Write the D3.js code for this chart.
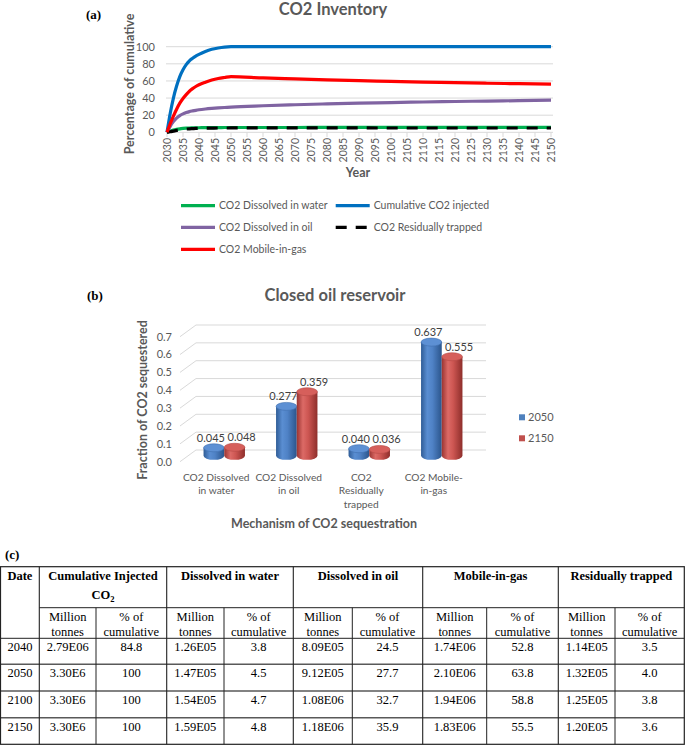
<!DOCTYPE html>
<html><head><meta charset="utf-8">
<script src="https://cdn.jsdelivr.net/npm/d3@7"></script>
<style>body{margin:0;background:#fff} svg{display:block}</style>
</head><body>
<svg id="fig" width="685" height="745"></svg>
<script>
// ---------- Panel (a) data ----------
const years = [2030,2031,2032,2033,2034,2035,2036,2037,2038,2039,2040,2042,2044,2046,2048,2050,2060,2070,2080,2090,2100,2110,2120,2130,2140,2150];
const dissolvedWater = [0,1.5,2.7,3.5,4.1,4.5,4.8,5.0,5.1,5.2,5.3,5.4,5.5,5.5,5.6,5.6,5.6,5.6,5.7,5.7,5.7,5.7,5.7,5.7,5.7,5.7];
const cumulativeInjected = [0,22,40,54,65,73,79,83.5,86.5,89,91,94.5,97,98.5,99.5,100,100,100,100,100,100,100,100,100,100,100];
const dissolvedOil = [0,7,12.5,16.5,19.5,21.5,23,24.2,25,25.7,26.3,27.2,27.9,28.5,29,29.5,31,32.2,33.2,34,34.7,35.4,36,36.5,37,37.5];
const residuallyTrapped = [0,0.6,1.4,2.2,2.9,3.4,3.8,4.1,4.3,4.5,4.6,4.8,4.9,5.0,5.0,5.1,5.1,5.1,5.1,5.1,5.0,5.0,5.0,5.0,5.0,5.0];
const mobileInGas = [0,10,19,27,34,39.5,44,48,51,53.5,55.5,58.5,61,62.8,64,65,63.5,62.3,61.2,60.3,59.5,58.7,58,57.3,56.8,56.3];
const yearTicks = [2030,2035,2040,2045,2050,2055,2060,2065,2070,2075,2080,2085,2090,2095,2100,2105,2110,2115,2120,2125,2130,2135,2140,2145,2150];
const pctTicks = [0,20,40,60,80,100];
const seriesNames = ["CO2 Dissolved in water","Cumulative CO2 injected","CO2 Dissolved in oil","CO2 Residually trapped","CO2 Mobile-in-gas"];

// ---------- Panel (b) data ----------
const mechanisms = ["CO2 Dissolved in water","CO2 Dissolved in oil","CO2 Residually trapped","CO2 Mobile-in-gas"];
const mechanismLabelLines = [["CO2 Dissolved","in water"],["CO2 Dissolved","in oil"],["CO2","Residually","trapped"],["CO2 Mobile-","in-gas"]];
const barYears = ["2050","2150"];
const fraction2050 = [0.045,0.277,0.040,0.637];
const fraction2150 = [0.048,0.359,0.036,0.555];
const fractionTicks = [0,0.1,0.2,0.3,0.4,0.5,0.6,0.7];

// ---------- Panel (c) data ----------
const tableDates = ["2040","2050","2100","2150"];
const tableGroups = ["Cumulative Injected", "Dissolved in water", "Dissolved in oil", "Mobile-in-gas", "Residually trapped"];
const tableCumulative = [["2.79E06","84.8"],["3.30E6","100"],["3.30E6","100"],["3.30E6","100"]];
const tableWater = [["1.26E05","3.8"],["1.47E05","4.5"],["1.54E05","4.7"],["1.59E05","4.8"]];
const tableOil = [["8.09E05","24.5"],["9.12E05","27.7"],["1.08E06","32.7"],["1.18E06","35.9"]];
const tableGas = [["1.74E06","52.8"],["2.10E06","63.8"],["1.94E06","58.8"],["1.83E06","55.5"]];
const tableResidual = [["1.14E05","3.5"],["1.32E05","4.0"],["1.25E05","3.8"],["1.20E05","3.6"]];

const svg = d3.select("#fig");
const SANS = "Lato, 'Open Sans', sans-serif";
const SERIF = "'Liberation Serif', 'Times New Roman', serif";
const GRAY = "#595959";

// ================= PANEL (a) =================
const xA = d3.scaleLinear().domain([2030,2150]).range([167,551]);
const yA = d3.scaleLinear().domain([0,100]).range([132.3,46.7]);

svg.append("text").attr("x",86).attr("y",19).attr("font-family",SERIF).attr("font-weight","bold")
  .attr("font-size",13).text("(a)");
svg.append("text").attr("x",333).attr("y",14.5).attr("text-anchor","middle").attr("font-family",SANS)
  .attr("font-weight","bold").attr("font-size",16.5).attr("fill",GRAY).text("CO2 Inventory");

const gA = svg.append("g");
gA.selectAll("line.grid").data(pctTicks).join("line").attr("class","grid")
  .attr("x1",166).attr("x2",553).attr("y1",d=>yA(d)).attr("y2",d=>yA(d))
  .attr("stroke","#d9d9d9").attr("stroke-width",1);
gA.selectAll("text.yt").data(pctTicks).join("text").attr("class","yt")
  .attr("x",155).attr("y",d=>yA(d)).attr("dy","0.35em").attr("text-anchor","end")
  .attr("font-family",SANS).attr("font-size",11).attr("fill",GRAY).text(d=>d);
gA.selectAll("line.xtk").data(yearTicks).join("line").attr("class","xtk")
  .attr("x1",d=>xA(d)).attr("x2",d=>xA(d)).attr("y1",132.3).attr("y2",137)
  .attr("stroke","#d9d9d9");
gA.selectAll("text.xt").data(yearTicks).join("text").attr("class","xt")
  .attr("transform",d=>`translate(${xA(d)},138) rotate(-90)`).attr("dy","0.35em").attr("text-anchor","end")
  .attr("font-family",SANS).attr("font-size",10.5).attr("fill",GRAY).text(d=>d);
svg.append("text").attr("transform","translate(129.5,84) rotate(-90)").attr("dy","0.35em")
  .attr("text-anchor","middle").attr("font-family",SANS).attr("font-weight","bold").attr("font-size",12.5)
  .attr("fill",GRAY).text("Percentage of cumulative");
svg.append("text").attr("x",358).attr("y",172.5).attr("dy","0.35em").attr("text-anchor","middle")
  .attr("font-family",SANS).attr("font-weight","bold").attr("font-size",12.5).attr("fill",GRAY).text("Year");

const seriesA = [
  {name:seriesNames[0], vals:dissolvedWater, color:"#00b050", dash:null},
  {name:seriesNames[1], vals:cumulativeInjected, color:"#0070c0", dash:null},
  {name:seriesNames[2], vals:dissolvedOil, color:"#8064a2", dash:null},
  {name:seriesNames[3], vals:residuallyTrapped, color:"#000000", dash:"11,9"},
  {name:seriesNames[4], vals:mobileInGas, color:"#ff0000", dash:null}
];
const lineA = d3.line().x((d,i)=>xA(years[i])).y(d=>yA(d)).curve(d3.curveMonotoneX);
seriesA.forEach(s=>{
  gA.append("path").attr("d",lineA(s.vals)).attr("fill","none").attr("stroke",s.color)
    .attr("stroke-width",3.2).attr("stroke-dasharray",s.dash).attr("stroke-linejoin","round");
});
// legend (a)
const legPos = [[181,205.7],[335.7,205.7],[181,227.3],[335.7,227.3],[181,249.3]];
seriesA.forEach((s,i)=>{
  const [lx,ly] = legPos[i];
  svg.append("line").attr("x1",lx).attr("x2",lx+34).attr("y1",ly).attr("y2",ly)
    .attr("stroke",s.color).attr("stroke-width",3.2).attr("stroke-dasharray",s.dash);
  svg.append("text").attr("x",lx+38).attr("y",ly).attr("dy","0.35em").attr("font-family",SANS)
    .attr("font-size",10.5).attr("fill",GRAY).text(s.name);
});

// ================= PANEL (b) =================
const dX = 16, dY = 11.7;          // depth offset (back -> front)
const yB = d3.scaleLinear().domain([0,0.7]).range([450,325]);   // back wall
const xB = d3.scaleBand().domain(mechanisms).range([196,486]);
const groupW = 41.4;
const xS = d3.scaleBand().domain(barYears).range([0,groupW]);

svg.append("text").attr("x",87).attr("y",300).attr("font-family",SERIF).attr("font-weight","bold")
  .attr("font-size",13).text("(b)");
svg.append("text").attr("x",335).attr("y",295).attr("dy","0.35em").attr("text-anchor","middle")
  .attr("font-family",SANS).attr("font-weight","bold").attr("font-size",16.5).attr("fill",GRAY)
  .text("Closed oil reservoir");

const gB = svg.append("g");
gB.selectAll("line.bg").data(fractionTicks).join("line").attr("class","bg")
  .attr("x1",196).attr("x2",486).attr("y1",d=>yB(d)).attr("y2",d=>yB(d))
  .attr("stroke","#d9d9d9");
gB.selectAll("line.bd").data(fractionTicks).join("line").attr("class","bd")
  .attr("x1",196-dX).attr("x2",196).attr("y1",d=>yB(d)+dY).attr("y2",d=>yB(d))
  .attr("stroke","#d9d9d9");
gB.selectAll("text.yt").data(fractionTicks).join("text").attr("class","yt")
  .attr("x",172).attr("y",d=>yB(d)+dY).attr("dy","0.35em").attr("text-anchor","end")
  .attr("font-family",SANS).attr("font-size",11).attr("fill",GRAY).text(d=>d.toFixed(1));

const defs = svg.append("defs");
function grad(id, stops){
  const g = defs.append("linearGradient").attr("id",id).attr("x1","0").attr("x2","1").attr("y1","0").attr("y2","0");
  stops.forEach(([o,c])=>g.append("stop").attr("offset",o).attr("stop-color",c));
}
grad("gBlue",[[0,"#2f5c96"],[0.3,"#5a8ed2"],[0.55,"#4f82c6"],[1,"#2b558c"]]);
grad("gRed",[[0,"#9a3431"],[0.3,"#dc6a66"],[0.55,"#cd5652"],[1,"#8e2e2b"]]);
const topFill = {"2050":"#5d90d4","2150":"#d65f5b"};
const bodyFill = {"2050":"url(#gBlue)","2150":"url(#gRed)"};

const barData = [];
mechanisms.forEach((m,i)=>{
  barData.push({m, yr:"2050", v:fraction2050[i]});
  barData.push({m, yr:"2150", v:fraction2150[i]});
});
const midX = d => xB(d.m) + (xB.bandwidth()-groupW)/2 + xS(d.yr) + xS.bandwidth()/2 - dX/2;
const midY = v => yB(v) + dY/2;
const rx = xS.bandwidth()/2, ry = 4;
barData.forEach(d=>{
  const cx = midX(d), yTop = midY(d.v), yBase = midY(0);
  gB.append("path")
    .attr("d",`M${cx-rx},${yTop} L${cx-rx},${yBase} A${rx},${ry} 0 0 0 ${cx+rx},${yBase} L${cx+rx},${yTop} Z`)
    .attr("fill",bodyFill[d.yr]);
  gB.append("ellipse").attr("cx",cx).attr("cy",yTop).attr("rx",rx).attr("ry",ry)
    .attr("fill",topFill[d.yr]).attr("stroke",d.yr==="2050"?"#3f6faf":"#b54a46").attr("stroke-width",0.6);
  gB.append("text").attr("x",cx + (d.yr==="2050"?-3:7)).attr("y",yTop-10).attr("dy","0.35em")
    .attr("text-anchor","middle").attr("font-family",SANS).attr("font-size",11).attr("fill","#404040")
    .text(d.v.toFixed(3));
});
// category labels (front plane)
mechanisms.forEach((m,i)=>{
  const cx = xB(m) + xB.bandwidth()/2 - dX;
  mechanismLabelLines[i].forEach((ln,j)=>{
    gB.append("text").attr("x",cx).attr("y",477.3 + j*13.5).attr("dy","0.35em").attr("text-anchor","middle")
      .attr("font-family",SANS).attr("font-size",10.2).attr("fill",GRAY).text(ln);
  });
});
svg.append("text").attr("transform","translate(143,400) rotate(-90)").attr("dy","0.35em")
  .attr("text-anchor","middle").attr("font-family",SANS).attr("font-weight","bold").attr("font-size",12.5)
  .attr("fill",GRAY).text("Fraction of CO2 sequestered");
svg.append("text").attr("x",324).attr("y",523.3).attr("dy","0.35em").attr("text-anchor","middle")
  .attr("font-family",SANS).attr("font-weight","bold").attr("font-size",12.5).attr("fill",GRAY)
  .text("Mechanism of CO2 sequestration");
// legend (b)
barYears.forEach((yr,i)=>{
  const ly = 417.3 + i*21;
  svg.append("rect").attr("x",519).attr("y",ly-3).attr("width",6).attr("height",6)
    .attr("fill",yr==="2050"?"#4f81bd":"#c0504d");
  svg.append("text").attr("x",528).attr("y",ly).attr("dy","0.35em").attr("font-family",SANS)
    .attr("font-size",11).attr("fill",GRAY).text(yr);
});

// ================= PANEL (c) table =================
svg.append("text").attr("x",5).attr("y",559).attr("font-family",SERIF).attr("font-weight","bold")
  .attr("font-size",13).text("(c)");
const colX = [0.5,39.3,96,166.7,224,293.3,352.3,422.7,486.7,558.3,615,684.3];
const rowY = [566.7,607.7,638.3,664.3,691,717.7,744.3];
const gC = svg.append("g").attr("font-family",SERIF).attr("font-size",12.5).attr("fill","#000");
const LC = "#222";
gC.append("rect").attr("x",colX[0]).attr("y",rowY[0]).attr("width",colX[11]-colX[0]).attr("height",rowY[6]-rowY[0])
  .attr("fill","none").attr("stroke",LC).attr("stroke-width",1.2);
[1,3,5,7,9].forEach(k=>gC.append("line").attr("x1",colX[k]).attr("x2",colX[k]).attr("y1",rowY[0]).attr("y2",rowY[6]).attr("stroke",LC).attr("stroke-width",1.1));
[2,4,6,8,10].forEach(k=>gC.append("line").attr("x1",colX[k]).attr("x2",colX[k]).attr("y1",rowY[1]).attr("y2",rowY[6]).attr("stroke",LC).attr("stroke-width",1));
gC.append("line").attr("x1",colX[1]).attr("x2",colX[11]).attr("y1",rowY[1]).attr("y2",rowY[1]).attr("stroke",LC);
[2,3,4,5].forEach(k=>gC.append("line").attr("x1",colX[0]).attr("x2",colX[11]).attr("y1",rowY[k]).attr("y2",rowY[k]).attr("stroke",LC).attr("stroke-width",k===2?1:1.4).attr("stroke-opacity",k===2?1:0.75));
gC.append("text").attr("x",(colX[0]+colX[1])/2).attr("y",579.5).attr("text-anchor","middle").attr("font-weight","bold").text("Date");
tableGroups.forEach((g,i)=>{
  const cx = (colX[1+2*i]+colX[3+2*i])/2;
  gC.append("text").attr("x",cx).attr("y",579.5).attr("text-anchor","middle").attr("font-weight","bold").text(g);
});
const co2 = gC.append("text").attr("x",(colX[1]+colX[3])/2).attr("y",599).attr("text-anchor","middle").attr("font-weight","bold");
co2.append("tspan").text("CO");
co2.append("tspan").attr("font-size",8.5).attr("dy",3).text("2");
for(let i=0;i<5;i++){
  const c1 = (colX[1+2*i]+colX[2+2*i])/2, c2 = (colX[2+2*i]+colX[3+2*i])/2;
  gC.append("text").attr("x",c1).attr("y",621).attr("text-anchor","middle").text("Million");
  gC.append("text").attr("x",c1).attr("y",636).attr("text-anchor","middle").text("tonnes");
  gC.append("text").attr("x",c2).attr("y",621).attr("text-anchor","middle").text("% of");
  gC.append("text").attr("x",c2).attr("y",636).attr("text-anchor","middle").text("cumulative");
}
const tableCols = [tableCumulative, tableWater, tableOil, tableGas, tableResidual];
tableDates.forEach((dt,r)=>{
  const by = rowY[2+r] + 13;
  gC.append("text").attr("x",(colX[0]+colX[1])/2).attr("y",by).attr("text-anchor","middle").text(dt);
  tableCols.forEach((col,i)=>{
    const c1 = (colX[1+2*i]+colX[2+2*i])/2, c2 = (colX[2+2*i]+colX[3+2*i])/2;
    gC.append("text").attr("x",c1).attr("y",by).attr("text-anchor","middle").text(col[r][0]);
    gC.append("text").attr("x",c2).attr("y",by).attr("text-anchor","middle").text(col[r][1]);
  });
});
</script>
</body></html>
